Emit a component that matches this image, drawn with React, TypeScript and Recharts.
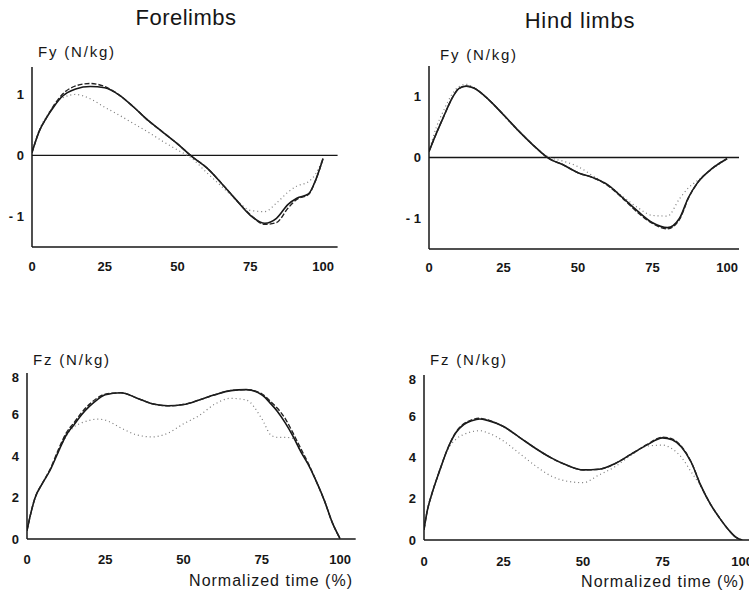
import React from 'react';
import { LineChart, Line, XAxis, YAxis, ReferenceLine } from 'recharts';

// Forelimbs, Fy
const FORE_FY_TIME = [0, 2.5, 5, 7.5, 10, 15, 20, 25, 30, 35, 40, 45, 50, 55, 60, 65, 70, 75, 80, 84, 88, 91, 95, 97.5, 100];
const FORE_FY_SOLID = [0.05, 0.4, 0.62, 0.8, 0.95, 1.09, 1.13, 1.11, 0.99, 0.79, 0.57, 0.38, 0.19, -0.02, -0.2, -0.45, -0.72, -0.98, -1.11, -1.03, -0.8, -0.7, -0.63, -0.4, -0.05];
const FORE_FY_DASHED = [0.05, 0.4, 0.62, 0.82, 0.98, 1.14, 1.18, 1.13, 0.99, 0.79, 0.57, 0.38, 0.19, -0.02, -0.2, -0.45, -0.72, -0.97, -1.13, -1.1, -0.86, -0.72, -0.64, -0.4, -0.05];
const FORE_FY_DOTTED = [0.05, 0.42, 0.64, 0.82, 0.93, 1.0, 0.93, 0.79, 0.66, 0.52, 0.38, 0.23, 0.09, -0.05, -0.28, -0.5, -0.72, -0.9, -0.92, -0.78, -0.6, -0.5, -0.43, -0.3, -0.05];

// Hind limbs, Fy
const HIND_FY_TIME = [0, 2.5, 5, 7.5, 10, 12.5, 15, 20, 25, 30, 35, 40, 45, 50, 55, 60, 65, 70, 75, 80, 84, 87, 90, 95, 100];
const HIND_FY_SOLID = [0.1, 0.4, 0.68, 0.95, 1.13, 1.17, 1.14, 0.95, 0.7, 0.44, 0.2, -0.01, -0.12, -0.25, -0.33, -0.45, -0.66, -0.88, -1.07, -1.15, -1.0, -0.66, -0.42, -0.18, -0.02];
const HIND_FY_DASHED = [0.1, 0.4, 0.68, 0.95, 1.13, 1.17, 1.14, 0.95, 0.7, 0.44, 0.2, -0.01, -0.12, -0.25, -0.33, -0.46, -0.67, -0.9, -1.08, -1.17, -1.02, -0.67, -0.42, -0.18, -0.02];
const HIND_FY_DOTTED = [0.1, 0.5, 0.78, 1.02, 1.16, 1.2, 1.15, 0.95, 0.69, 0.43, 0.2, 0.01, -0.06, -0.15, -0.3, -0.45, -0.64, -0.82, -0.95, -0.96, -0.68, -0.5, -0.38, -0.19, -0.02];

// Forelimbs, Fz
const FORE_FZ_TIME = [0, 1, 2.5, 5, 7.5, 10, 12.5, 15, 17.5, 20, 22.5, 25, 30, 35, 40, 45, 50, 55, 60, 65, 70, 75, 78, 80, 82.5, 85, 87.5, 90, 92.5, 95, 97.5, 100];
const FORE_FZ_SOLID = [0.4, 1.1, 1.95, 2.7, 3.35, 4.2, 5.0, 5.5, 6.0, 6.4, 6.72, 6.95, 7.05, 6.8, 6.52, 6.42, 6.48, 6.7, 6.95, 7.15, 7.2, 6.95, 6.5, 6.15, 5.6, 4.95, 4.2, 3.55, 2.75, 1.85, 0.8, 0.02];
const FORE_FZ_DASHED = [0.4, 1.1, 1.95, 2.7, 3.4, 4.3, 5.1, 5.6, 6.1, 6.5, 6.8, 6.98, 7.05, 6.8, 6.52, 6.42, 6.48, 6.7, 6.95, 7.15, 7.2, 7.0, 6.6, 6.3, 5.8, 5.1, 4.35, 3.6, 2.75, 1.85, 0.8, 0.02];
const FORE_FZ_DOTTED = [0.4, 1.1, 1.95, 2.7, 3.35, 4.2, 4.95, 5.4, 5.6, 5.72, 5.78, 5.73, 5.35, 5.02, 4.92, 5.1, 5.55, 5.95, 6.5, 6.78, 6.7, 5.8, 5.0, 4.9, 4.9, 4.85, 4.2, 3.55, 2.75, 1.85, 0.8, 0.02];

// Hind limbs, Fz
const HIND_FZ_TIME = [0, 1, 2.5, 5, 7.5, 10, 12.5, 15, 17.5, 20, 25, 30, 35, 40, 45, 50, 55, 60, 65, 70, 75, 78, 81, 84, 87, 90, 93, 96, 98, 100];
const HIND_FZ_SOLID = [0.5, 1.4, 2.25, 3.4, 4.45, 5.2, 5.6, 5.78, 5.87, 5.8, 5.5, 4.98, 4.45, 3.98, 3.62, 3.4, 3.43, 3.7, 4.15, 4.6, 4.95, 4.86, 4.5, 3.77, 2.65, 1.75, 1.05, 0.45, 0.14, 0.0];
const HIND_FZ_DASHED = [0.5, 1.4, 2.25, 3.4, 4.45, 5.22, 5.63, 5.82, 5.9, 5.82, 5.5, 4.98, 4.45, 3.98, 3.62, 3.4, 3.43, 3.7, 4.15, 4.62, 4.98, 4.9, 4.52, 3.78, 2.65, 1.75, 1.05, 0.45, 0.14, 0.0];
const HIND_FZ_DOTTED = [0.5, 1.4, 2.25, 3.4, 4.4, 4.88, 5.12, 5.25, 5.3, 5.2, 4.8, 4.2, 3.6, 3.1, 2.85, 2.78, 3.15, 3.55, 4.1, 4.55, 4.6, 4.42, 4.0, 3.3, 2.6, 1.75, 1.05, 0.45, 0.14, 0.0];

const X_TICKS = [0, 25, 50, 75, 100];
const FY_TICKS = [-1, 0, 1];
const FZ_TICKS = [0, 2, 4, 6, 8];

const FONT = '"Liberation Sans", Arial, sans-serif';
const INK = '#161616';

const YW = 40;
const MT = 4;
const MR = 4;
const XH = 30;
const MB = 2;

const fmtY = (v: number) => (v < 0 ? `- ${Math.abs(v)}` : String(v));

const buildRows = (time: number[], solid: number[], dashed: number[], dotted: number[]) =>
  time.map((t, i) => ({ t, solid: solid[i], dashed: dashed[i], dotted: dotted[i] }));

interface PanelProps {
  rows: any[];
  x0: number;
  xEnd: number;
  yTop: number;
  yBottom: number;
  xMax: number;
  yDomain: [number, number];
  yTicks: number[];
  zeroLine?: boolean;
  xTickMargin: number;
}

const Panel: React.FC<PanelProps> = ({ rows, x0, xEnd, yTop, yBottom, xMax, yDomain, yTicks, zeroLine, xTickMargin }) => {
  const width = xEnd - x0 + YW + MR;
  const height = yBottom - yTop + MT + XH + MB;
  const tick = { fill: INK, fontSize: 13, fontWeight: 700, fontFamily: FONT };
  return (
    <div style={{ position: 'absolute', left: x0 - YW, top: yTop - MT }}>
      <LineChart width={width} height={height} data={rows} margin={{ top: MT, right: MR, left: 0, bottom: MB }}>
        <XAxis
          dataKey="t"
          type="number"
          domain={[0, xMax]}
          ticks={X_TICKS}
          tickLine={false}
          tickSize={0}
          tickMargin={xTickMargin}
          height={XH}
          axisLine={{ stroke: INK, strokeWidth: 1.5 }}
          tick={tick}
          allowDataOverflow
        />
        <YAxis
          type="number"
          domain={yDomain}
          ticks={yTicks}
          tickLine={false}
          tickSize={0}
          tickMargin={8}
          width={YW}
          axisLine={{ stroke: INK, strokeWidth: 1.5 }}
          tick={tick}
          tickFormatter={fmtY}
          allowDataOverflow
        />
        {zeroLine && <ReferenceLine y={0} stroke={INK} strokeWidth={1.3} />}
        <Line type="monotone" dataKey="dotted" stroke="#7a7a7a" strokeWidth={1.2} strokeDasharray="1 3" dot={false} isAnimationActive={false} />
        <Line type="monotone" dataKey="solid" stroke={INK} strokeWidth={1.6} dot={false} isAnimationActive={false} />
        <Line type="monotone" dataKey="dashed" stroke="#222" strokeWidth={1.4} strokeDasharray="5 2" dot={false} isAnimationActive={false} />
      </LineChart>
    </div>
  );
};

export default function App() {
  const labelStyle = { fontFamily: FONT, fill: INK };
  return (
    <div style={{ position: 'absolute', left: 0, top: 0, width: 749, height: 593, background: '#fff', overflow: 'hidden' }}>
      <Panel
        rows={buildRows(FORE_FY_TIME, FORE_FY_SOLID, FORE_FY_DASHED, FORE_FY_DOTTED)}
        x0={32} xEnd={337.6} yTop={66.5} yBottom={246.5} xMax={105}
        yDomain={[-1.5, 1.45]} yTicks={FY_TICKS} zeroLine xTickMargin={15}
      />
      <Panel
        rows={buildRows(HIND_FY_TIME, HIND_FY_SOLID, HIND_FY_DASHED, HIND_FY_DOTTED)}
        x0={429} xEnd={739} yTop={65.5} yBottom={248.5} xMax={104}
        yDomain={[-1.5, 1.5]} yTicks={FY_TICKS} zeroLine xTickMargin={14}
      />
      <Panel
        rows={buildRows(FORE_FZ_TIME, FORE_FZ_SOLID, FORE_FZ_DASHED, FORE_FZ_DOTTED)}
        x0={27} xEnd={355.7} yTop={373} yBottom={539} xMax={105}
        yDomain={[0, 8]} yTicks={FZ_TICKS} xTickMargin={16}
      />
      <Panel
        rows={buildRows(HIND_FZ_TIME, HIND_FZ_SOLID, HIND_FZ_DASHED, HIND_FZ_DOTTED)}
        x0={424} xEnd={758} yTop={375} yBottom={540} xMax={105}
        yDomain={[0, 8]} yTicks={FZ_TICKS} xTickMargin={17}
      />
      <svg width={749} height={593} style={{ position: 'absolute', left: 0, top: 0, pointerEvents: 'none' }}>
        <text x={186} y={25} textAnchor="middle" fontSize={22} letterSpacing={0.5} style={labelStyle}>Forelimbs</text>
        <text x={580} y={28} textAnchor="middle" fontSize={22} letterSpacing={0.8} style={labelStyle}>Hind limbs</text>
        <text x={38} y={57} fontSize={15} letterSpacing={1.8} style={labelStyle}>Fy (N/kg)</text>
        <text x={440} y={60} fontSize={15} letterSpacing={1.8} style={labelStyle}>Fy (N/kg)</text>
        <text x={33} y={365} fontSize={15} letterSpacing={1.8} style={labelStyle}>Fz (N/kg)</text>
        <text x={430} y={365} fontSize={15} letterSpacing={1.8} style={labelStyle}>Fz (N/kg)</text>
        <text x={353} y={586} textAnchor="end" fontSize={16} letterSpacing={1} style={labelStyle}>Normalized time (%)</text>
        <text x={745} y={587} textAnchor="end" fontSize={16} letterSpacing={1} style={labelStyle}>Normalized time (%)</text>
      </svg>
    </div>
  );
}
